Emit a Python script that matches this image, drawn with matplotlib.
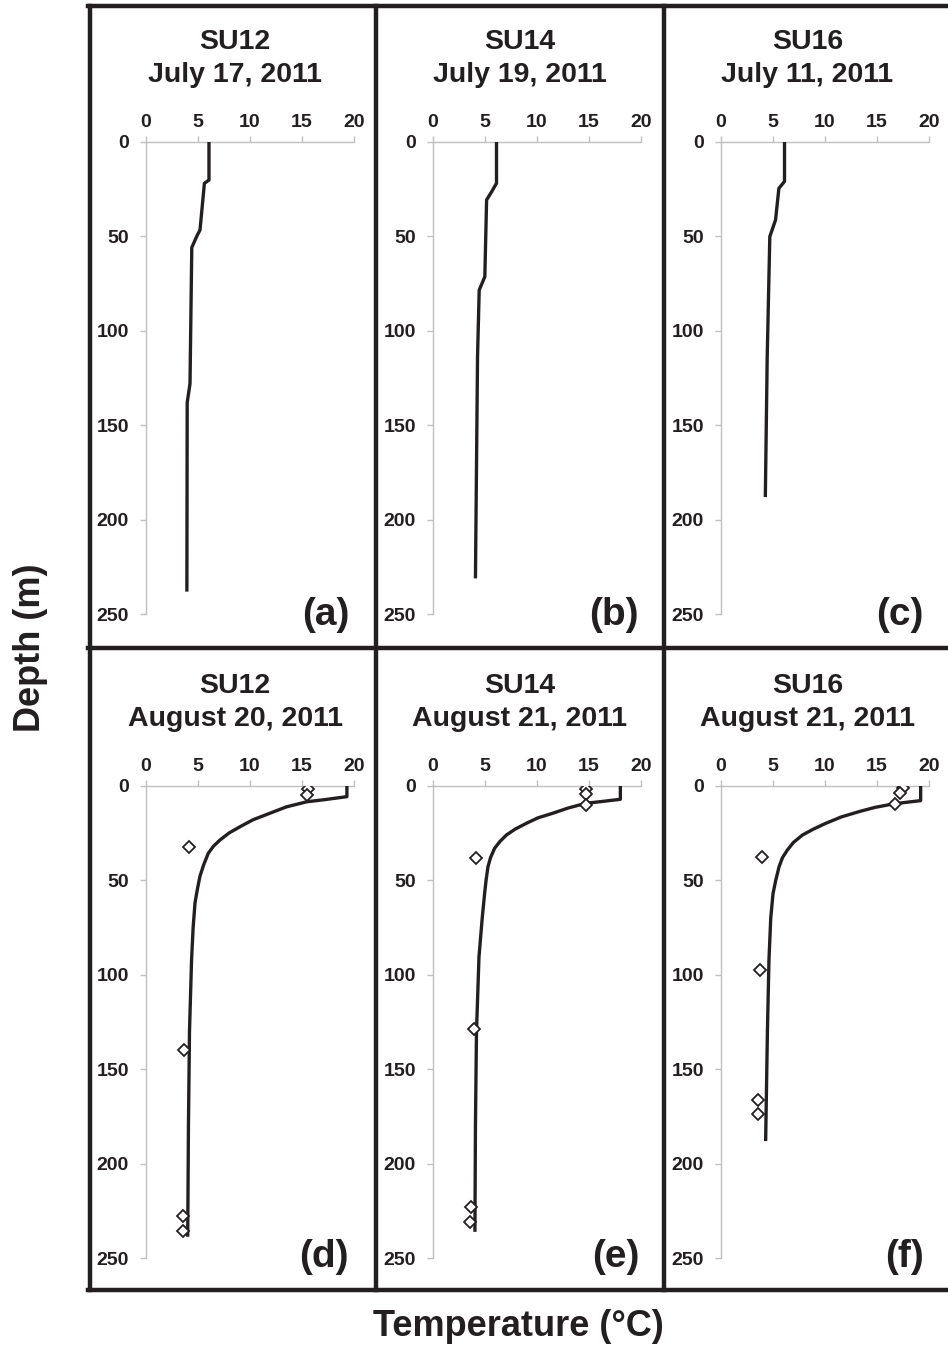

# - - - - - - - - - - - - - - - - - - - - - - - - - - - - - - - - -
# IMPORTS
# - - - - - - - - - - - - - - - - - - - - - - - - - - - - - - - - -

import matplotlib
matplotlib.use('Agg')
import matplotlib.pyplot as plt
from matplotlib.lines import Line2D


# - - - - - - - - - - - - - - - - - - - - - - - - - - - - - - - - -
# DATA  (temperature in deg C, depth in m)
# - - - - - - - - - - - - - - - - - - - - - - - - - - - - - - - - -

STATIONS = ['SU12', 'SU14', 'SU16', 'SU12', 'SU14', 'SU16']
DATES = ['July 17, 2011', 'July 19, 2011', 'July 11, 2011',
         'August 20, 2011', 'August 21, 2011', 'August 21, 2011']
PANEL_TAGS = ['(a)', '(b)', '(c)', '(d)', '(e)', '(f)']

X_TICKS = [0, 5, 10, 15, 20]
Y_TICKS = [0, 50, 100, 150, 200, 250]

# July profiles (CTD line)
a_depth = [0, 20.3, 22, 46.7, 50, 56, 128, 138, 238]
a_temp = [6.07, 6.07, 5.63, 5.21, 4.9, 4.42, 4.25, 3.98, 3.95]

b_depth = [0, 22, 26.5, 30.8, 71.4, 78.5, 114, 231]
b_temp = [6.12, 6.12, 5.65, 5.17, 5.0, 4.46, 4.3, 4.1]

c_depth = [0, 21, 24.7, 41.4, 50.2, 114, 188]
c_temp = [6.14, 6.14, 5.6, 5.28, 4.73, 4.48, 4.3]

# August profiles (CTD line)
d_depth = [0, 5.8, 7.5, 8.5, 11.2, 14.6, 18, 21.7, 25, 28.7, 32, 35.8,
           42, 48, 55, 62, 75, 92, 130, 180, 238.6]
d_temp = [19.3, 19.3, 17.0, 15.45, 13.5, 11.9, 10.3, 9.05, 8.0, 7.13, 6.5, 6.0,
          5.55, 5.2, 4.95, 4.73, 4.55, 4.4, 4.2, 4.1, 4.03]

e_depth = [0, 7.2, 8.5, 9.3, 11.8, 14.6, 17, 19.9, 23, 26.1, 29.5, 33.1,
           38, 42.9, 50, 57, 70, 90.5, 130, 180, 236]
e_temp = [18.0, 18.0, 16.0, 14.7, 13.0, 11.5, 10.1, 8.98, 7.9, 7.07, 6.45, 5.94,
          5.55, 5.3, 5.12, 4.98, 4.75, 4.44, 4.2, 4.1, 4.05]

f_depth = [0, 7.9, 8.8, 9.7, 11.5, 13.7, 16.5, 19.9, 23, 26.1, 30, 34,
           38, 42.8, 50, 57, 70, 92, 130, 188]
f_temp = [19.2, 19.2, 17.8, 16.5, 14.8, 13.3, 11.6, 10.1, 8.9, 7.86, 7.0, 6.42,
          5.95, 5.62, 5.3, 5.04, 4.82, 4.65, 4.5, 4.33]

# August bottle samples (diamonds)
d_obs_depth = [2, 5, 32.3, 139.8, 227.5, 235.5]
d_obs_temp = [15.6, 15.5, 4.19, 3.7, 3.55, 3.55]

e_obs_depth = [1.5, 4.5, 10, 38.4, 128.7, 223, 231]
e_obs_temp = [14.7, 14.7, 14.7, 4.12, 3.93, 3.64, 3.6]

f_obs_depth = [1.4, 4, 9.9, 37.5, 97.5, 166.3, 173.9]
f_obs_temp = [17.5, 17.2, 16.7, 4.0, 3.8, 3.62, 3.62]

LINES = [(a_temp, a_depth), (b_temp, b_depth), (c_temp, c_depth),
         (d_temp, d_depth), (e_temp, e_depth), (f_temp, f_depth)]
POINTS = [None, None, None,
          (d_obs_temp, d_obs_depth), (e_obs_temp, e_obs_depth), (f_obs_temp, f_obs_depth)]


# - - - - - - - - - - - - - - - - - - - - - - - - - - - - - - - - -
# LAYOUT (pixels)
# - - - - - - - - - - - - - - - - - - - - - - - - - - - - - - - - -

W, H = 948, 1352
INK = '#231f20'
AXIS_GREY = '#bfbfbf'

AX_LEFT = [145.7, 432.7, 720.5]
AX_TOP = [141.7, 785.7]
AX_W = 208.5
AX_H = 472.6

CELL_CX = [235, 520, 807.5]
TITLE_Y1 = [42, 686]
TITLE_Y2 = [75, 719]
TAG_RIGHT = [349, 639, 924]
TAG_Y = [615, 1257]


def fx(px):
    return px / W


def fy(py):
    return 1 - py / H


# - - - - - - - - - - - - - - - - - - - - - - - - - - - - - - - - -
# PLOT
# - - - - - - - - - - - - - - - - - - - - - - - - - - - - - - - - -

plt.rcParams['font.family'] = ['Liberation Sans', 'DejaVu Sans']
plt.rcParams['font.weight'] = 'bold'

fig = plt.figure(figsize=(W / 100, H / 100), dpi=100)
fig.patch.set_facecolor('white')

for i in range(6):
    row, col = divmod(i, 3)
    ax = fig.add_axes([fx(AX_LEFT[col]), fy(AX_TOP[row] + AX_H), AX_W / W, AX_H / H])

    temp, depth = LINES[i]
    ax.plot(temp, depth, color=INK, lw=2.4, solid_joinstyle='round',
            solid_capstyle='butt', zorder=3)
    if POINTS[i] is not None:
        ot, od = POINTS[i]
        ax.plot(ot, od, ls='none', marker='D', ms=6.5, mfc='white', mec=INK,
                mew=1.3, zorder=4)

    ax.set_xlim(0, 20)
    ax.set_ylim(250, 0)
    ax.set_xticks(X_TICKS)
    ax.set_yticks(Y_TICKS)
    ax.xaxis.tick_top()
    for side in ['right', 'bottom']:
        ax.spines[side].set_visible(False)
    for side in ['top', 'left']:
        ax.spines[side].set_color(AXIS_GREY)
        ax.spines[side].set_linewidth(1.0)
    ax.tick_params(axis='both', direction='out', length=4, width=1.0,
                   color=AXIS_GREY, labelcolor=INK, labelsize=14)
    ax.tick_params(axis='x', pad=4)
    ax.tick_params(axis='y', pad=8)
    for lab in ax.get_xticklabels() + ax.get_yticklabels():
        lab.set_fontweight('bold')
    ax.set_facecolor('none')

    fig.text(fx(CELL_CX[col]), fy(TITLE_Y1[row]), STATIONS[i], ha='center', va='center',
             fontsize=20.5, fontweight='bold', color=INK)
    fig.text(fx(CELL_CX[col]), fy(TITLE_Y2[row]), DATES[i], ha='center', va='center',
             fontsize=20.5, fontweight='bold', color=INK)
    fig.text(fx(TAG_RIGHT[col]), fy(TAG_Y[row]), PANEL_TAGS[i], ha='right', va='center',
             fontsize=28, fontweight='bold', color=INK)

# panel frame
frame = [((90, 90), (6, 1290)), ((376, 376), (6, 1290)), ((664, 664), (6, 1290)),
         ((88, 960), (6, 6)), ((88, 960), (648, 648)), ((88, 960), (1290, 1290))]
for xs, ys in frame:
    fig.add_artist(Line2D([fx(x) for x in xs], [fy(y) for y in ys], color=INK,
                          lw=3.2, transform=fig.transFigure, solid_capstyle='projecting'))

fig.text(fx(30), fy(648), 'Depth (m)', rotation=90, ha='center', va='center',
         fontsize=26, fontweight='bold', color=INK)
fig.text(fx(518), fy(1327), 'Temperature (°C)', ha='center', va='center',
         fontsize=26, fontweight='bold', color=INK)

fig.savefig('out.png', dpi=100, facecolor='white')
